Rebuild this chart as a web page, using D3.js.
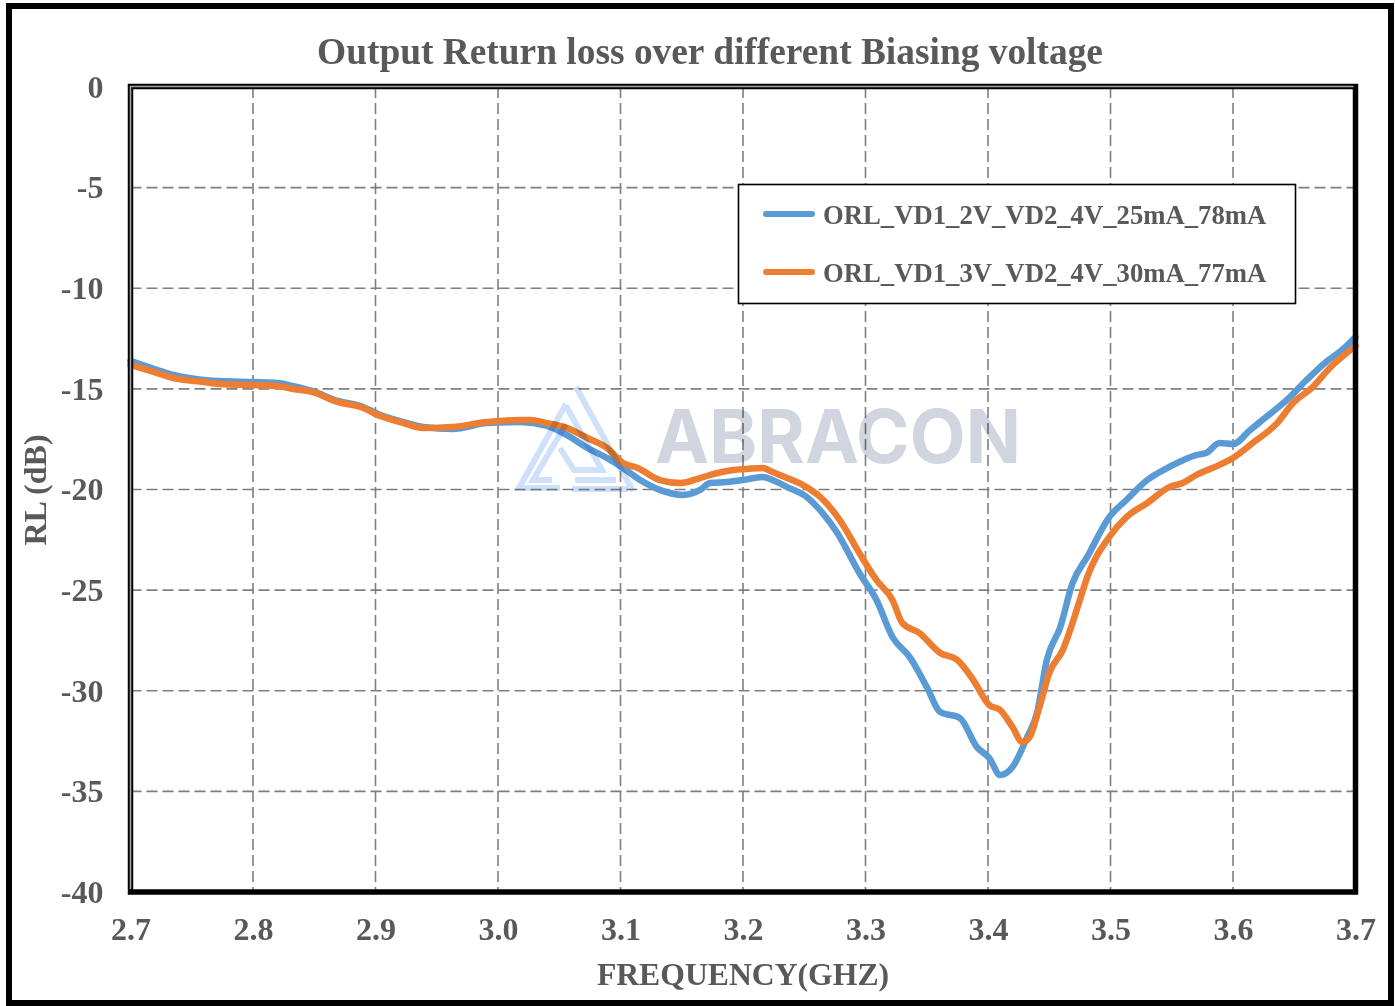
<!DOCTYPE html>
<html>
<head>
<meta charset="utf-8">
<script src="https://cdn.jsdelivr.net/npm/d3@7/dist/d3.min.js"></script>
<style>
  html, body { margin: 0; padding: 0; background: #fff; }
  svg { display: block; }
  .lbl { font-family: "Liberation Serif", "Times New Roman", serif; font-weight: bold; fill: #595959; }
</style>
</head>
<body>
<svg id="chart" width="1395" height="1006"></svg>
<script>
// Output return loss (dB) versus frequency (GHz) for two bias conditions
const seriesNames = ["ORL_VD1_2V_VD2_4V_25mA_78mA", "ORL_VD1_3V_VD2_4V_30mA_77mA"];
const seriesColors = ["#5b9bd5", "#ed7d31"];

const freqA = [2.700, 2.719, 2.735, 2.760, 2.773, 2.800, 2.820, 2.833, 2.849, 2.869, 2.888, 2.904, 2.923, 2.939,
  2.963, 2.991, 3.018, 3.040, 3.056, 3.073, 3.089, 3.102, 3.116, 3.132, 3.151, 3.165, 3.173, 3.187, 3.200, 3.216,
  3.224, 3.236, 3.252, 3.265, 3.277, 3.295, 3.309, 3.322, 3.336, 3.350, 3.361, 3.377, 3.391, 3.401, 3.410, 3.420,
  3.432, 3.440, 3.448, 3.459, 3.469, 3.481, 3.499, 3.513, 3.530, 3.548, 3.570, 3.578, 3.589, 3.600, 3.614, 3.627,
  3.644, 3.660, 3.676, 3.689, 3.700];
const rlA = [-13.61, -14.01, -14.31, -14.56, -14.61, -14.66, -14.71, -14.86, -15.11, -15.60, -15.85, -16.30, -16.65, -16.89,
  -16.99, -16.70, -16.65, -16.84, -17.29, -17.94, -18.43, -18.93, -19.53, -20.02, -20.27, -20.02, -19.68, -19.63, -19.53, -19.38,
  -19.53, -19.88, -20.37, -21.17, -22.16, -24.15, -25.49, -27.33, -28.32, -29.81, -31.06, -31.35, -32.80, -33.34, -34.19, -33.79,
  -32.30, -31.11, -28.47, -26.83, -24.65, -23.35, -21.37, -20.52, -19.53, -18.88, -18.29, -18.19, -17.69, -17.74, -17.04, -16.40,
  -15.55, -14.56, -13.66, -13.07, -12.42];

const freqB = [2.700, 2.719, 2.735, 2.760, 2.773, 2.800, 2.820, 2.833, 2.849, 2.869, 2.888, 2.904, 2.923, 2.939,
  2.963, 2.991, 3.018, 3.026, 3.040, 3.056, 3.073, 3.089, 3.102, 3.114, 3.132, 3.149, 3.165, 3.176, 3.192, 3.203,
  3.216, 3.224, 3.236, 3.249, 3.263, 3.279, 3.295, 3.309, 3.322, 3.330, 3.344, 3.361, 3.375, 3.388, 3.401, 3.410,
  3.420, 3.428, 3.434, 3.442, 3.450, 3.461, 3.475, 3.481, 3.499, 3.513, 3.530, 3.548, 3.559, 3.570, 3.589, 3.600,
  3.616, 3.636, 3.649, 3.665, 3.679, 3.700];
const rlB = [-13.81, -14.16, -14.46, -14.66, -14.76, -14.81, -14.86, -15.01, -15.16, -15.65, -15.90, -16.35, -16.70, -16.94,
  -16.89, -16.65, -16.55, -16.55, -16.70, -16.94, -17.44, -17.94, -18.68, -18.93, -19.53, -19.68, -19.43, -19.23, -19.03, -18.98,
  -18.93, -19.13, -19.43, -19.78, -20.37, -21.52, -23.16, -24.50, -25.49, -26.63, -27.13, -28.12, -28.47, -29.47, -30.71, -30.96,
  -31.80, -32.55, -32.30, -30.81, -29.12, -27.98, -25.49, -24.35, -22.36, -21.37, -20.67, -19.88, -19.68, -19.28, -18.78, -18.43,
  -17.69, -16.70, -15.70, -14.91, -13.96, -12.87];

const xTicks = [2.7, 2.8, 2.9, 3.0, 3.1, 3.2, 3.3, 3.4, 3.5, 3.6, 3.7];
const xTickLabels = ["2.7", "2.8", "2.9", "3.0", "3.1", "3.2", "3.3", "3.4", "3.5", "3.6", "3.7"];
const yTicks = [0, -5, -10, -15, -20, -25, -30, -35, -40];
const yTickLabels = ["0", "-5", "-10", "-15", "-20", "-25", "-30", "-35", "-40"];

const svg = d3.select("#chart");
const W = 1395, H = 1006;
const plot = { left: 130.5, right: 1355.5, top: 87, bottom: 892 };

const x = d3.scaleLinear().domain([2.7, 3.7]).range([plot.left, plot.right]);
const y = d3.scaleLinear().domain([-40, 0]).range([plot.bottom, plot.top]);

svg.append("rect").attr("width", W).attr("height", H).attr("fill", "#fff");
// outer chart frame
svg.append("rect").attr("x", 9).attr("y", 6).attr("width", 1382).attr("height", 997)
  .attr("fill", "none").attr("stroke", "#000").attr("stroke-width", 6);

// dashed grid
const grid = svg.append("g").attr("stroke", "#7f7f7f").attr("stroke-width", 1.6).attr("stroke-dasharray", "11,5");
grid.selectAll("line.v").data(xTicks.slice(1, -1)).join("line")
  .attr("x1", d => x(d)).attr("x2", d => x(d)).attr("y1", plot.top).attr("y2", plot.bottom);
grid.selectAll("line.h").data(yTicks.slice(1, -1)).join("line")
  .attr("y1", d => y(d)).attr("y2", d => y(d)).attr("x1", plot.left).attr("x2", plot.right);

// data curves
const line = d3.line().x(d => x(d[0])).y(d => y(d[1])).curve(d3.curveMonotoneX);
const series = [d3.zip(freqA, rlA), d3.zip(freqB, rlB)];
svg.append("g").selectAll("path").data(series).join("path")
  .attr("d", line).attr("fill", "none")
  .attr("stroke", (d, i) => seriesColors[i]).attr("stroke-width", 6.5)
  .attr("stroke-linejoin", "round").attr("stroke-linecap", "round");

// plot frame
svg.append("rect").attr("x", plot.left).attr("y", plot.top - 0.5)
  .attr("width", plot.right - plot.left).attr("height", plot.bottom - plot.top + 0.5)
  .attr("fill", "none").attr("stroke", "#000").attr("stroke-width", 5.5);
svg.append("path").attr("d", `M${plot.left},${plot.bottom - 3}V${plot.top - 0.5}H${plot.right - 2}`)
  .attr("fill", "none").attr("stroke", "#a6a6a6").attr("stroke-width", 1.6);

// watermark
const wm = svg.append("g").style("mix-blend-mode", "multiply").attr("fill", "none")
  .attr("stroke", "#cfe1fa").attr("stroke-width", 6).attr("stroke-linejoin", "miter");
wm.append("path").attr("d", "M576,387L633,491");
wm.append("path").attr("d", "M566,404L519,488H560");
wm.append("path").attr("d", "M566,424L533,480H552");
wm.append("path").attr("d", "M566,406L602,470H574L560,448");
wm.append("path").attr("d", "M575,480H616");
wm.append("path").attr("d", "M572,489H628");
svg.append("text").text("ABRACON")
  .attr("x", 655).attr("y", 463).attr("textLength", 366).attr("lengthAdjust", "spacingAndGlyphs")
  .style("font-family", "Inter, 'Open Sans', sans-serif").style("font-weight", 700).style("font-size", "74px")
  .style("fill", "#d0d5df").style("mix-blend-mode", "multiply");

// axes (tick labels only)
const yAxis = svg.append("g").attr("transform", `translate(${plot.left},0)`)
  .call(d3.axisLeft(y).tickValues(yTicks).tickFormat((d, i) => yTickLabels[i]).tickSize(0).tickPadding(27));
const xAxis = svg.append("g").attr("transform", `translate(0,${plot.bottom})`)
  .call(d3.axisBottom(x).tickValues(xTicks).tickFormat((d, i) => xTickLabels[i]).tickSize(0).tickPadding(25));
[yAxis, xAxis].forEach(a => {
  a.select(".domain").remove();
  a.selectAll("text").attr("class", "lbl").style("font-size", "32px").attr("fill", null);
});

// titles
svg.append("text").attr("class", "lbl").attr("x", 710).attr("y", 64).attr("text-anchor", "middle")
  .style("font-size", "37.4px").text("Output Return loss over different Biasing voltage");
svg.append("text").attr("class", "lbl").attr("x", 743).attr("y", 985).attr("text-anchor", "middle")
  .style("font-size", "31.7px").text("FREQUENCY(GHZ)");
svg.append("text").attr("class", "lbl").attr("transform", "translate(46,490) rotate(-90)")
  .attr("text-anchor", "middle").style("font-size", "32px").text("RL (dB)");

// legend
const lg = svg.append("g");
lg.append("rect").attr("x", 738.5).attr("y", 184.5).attr("width", 557).attr("height", 119)
  .attr("fill", "#fff").attr("stroke", "#000").attr("stroke-width", 1.6);
const rows = lg.selectAll("g.row").data(seriesNames).join("g").attr("class", "row")
  .attr("transform", (d, i) => `translate(0,${214 + i * 58})`);
rows.append("line").attr("x1", 766).attr("x2", 812).attr("y1", 0).attr("y2", 0)
  .attr("stroke", (d, i) => seriesColors[i]).attr("stroke-width", 6).attr("stroke-linecap", "round");
rows.append("text").attr("class", "lbl").attr("x", 823).attr("y", 9.5).style("font-size", "26.7px").text(d => d);
</script>
</body>
</html>
